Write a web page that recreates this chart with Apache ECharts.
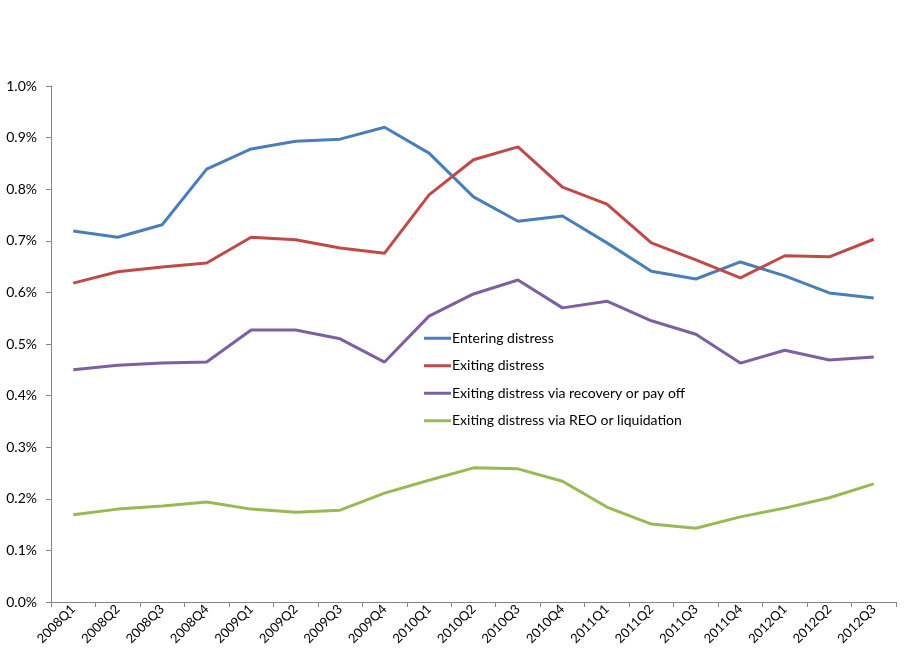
<!DOCTYPE html>
<html><head><meta charset="utf-8">
<script src="https://cdn.jsdelivr.net/npm/echarts@6/dist/echarts.min.js"></script>
<style>html,body{margin:0;padding:0;background:#fff}#c{width:910px;height:661px}</style>
</head><body><div id="c"></div>
<script>
const categories = ['2008Q1','2008Q2','2008Q3','2008Q4','2009Q1','2009Q2','2009Q3','2009Q4','2010Q1','2010Q2','2010Q3','2010Q4','2011Q1','2011Q2','2011Q3','2011Q4','2012Q1','2012Q2','2012Q3'];
const entering = [0.719,0.707,0.731,0.839,0.878,0.893,0.897,0.920,0.870,0.785,0.738,0.748,0.696,0.641,0.626,0.659,0.632,0.599,0.589];
const exiting = [0.618,0.640,0.649,0.657,0.707,0.702,0.686,0.676,0.789,0.857,0.882,0.804,0.771,0.696,0.663,0.628,0.671,0.669,0.703];
const exitRecovery = [0.450,0.459,0.463,0.465,0.527,0.527,0.510,0.465,0.554,0.597,0.624,0.570,0.583,0.545,0.519,0.463,0.488,0.469,0.475];
const exitReo = [0.169,0.180,0.186,0.194,0.180,0.174,0.178,0.211,0.236,0.260,0.258,0.234,0.184,0.151,0.143,0.165,0.182,0.202,0.229];
const seriesNames = ['Entering distress','Exiting distress','Exiting distress via recovery or pay off','Exiting distress via REO or liquidation'];
const colors = ['#4A7EBB','#BE4B48','#7D60A0','#98B954'];
const font = 'Lato, "Open Sans", sans-serif';
const chart = echarts.init(document.getElementById('c'));
const mk = (name, data, i) => ({name, type:'line', data, symbol:'none', smooth:false,
  lineStyle:{width:3, color:colors[i]}, itemStyle:{color:colors[i]}});
chart.setOption({
  animation:false,
  backgroundColor:'#fff',
  grid:{left:51, right:14, top:86, bottom:59},
  legend:{orient:'vertical', left:419, top:325, itemWidth:27, itemHeight:3, itemGap:11,
    icon:'rect', textStyle:{fontFamily:font, fontSize:14, color:'#000', lineHeight:16.5, padding:[0,0,0,-4]},
    data:seriesNames},
  xAxis:{type:'category', data:categories, boundaryGap:true,
    axisLine:{lineStyle:{color:'#868686'}}, axisTick:{show:true, interval:0, length:5, lineStyle:{color:'#868686'}},
    axisLabel:{interval:0, rotate:45, fontFamily:font, fontSize:13, color:'#000', margin:5}},
  yAxis:{type:'value', min:0, max:1.0, interval:0.1, splitLine:{show:false},
    axisLine:{show:true, lineStyle:{color:'#868686'}}, axisTick:{show:true, length:5, lineStyle:{color:'#868686'}},
    axisLabel:{fontFamily:font, fontSize:14, color:'#000', margin:14, formatter:v=>v.toFixed(1)+'%'}},
  series:[mk(seriesNames[0],entering,0),mk(seriesNames[1],exiting,1),mk(seriesNames[2],exitRecovery,2),mk(seriesNames[3],exitReo,3)]
});
</script></body></html>
